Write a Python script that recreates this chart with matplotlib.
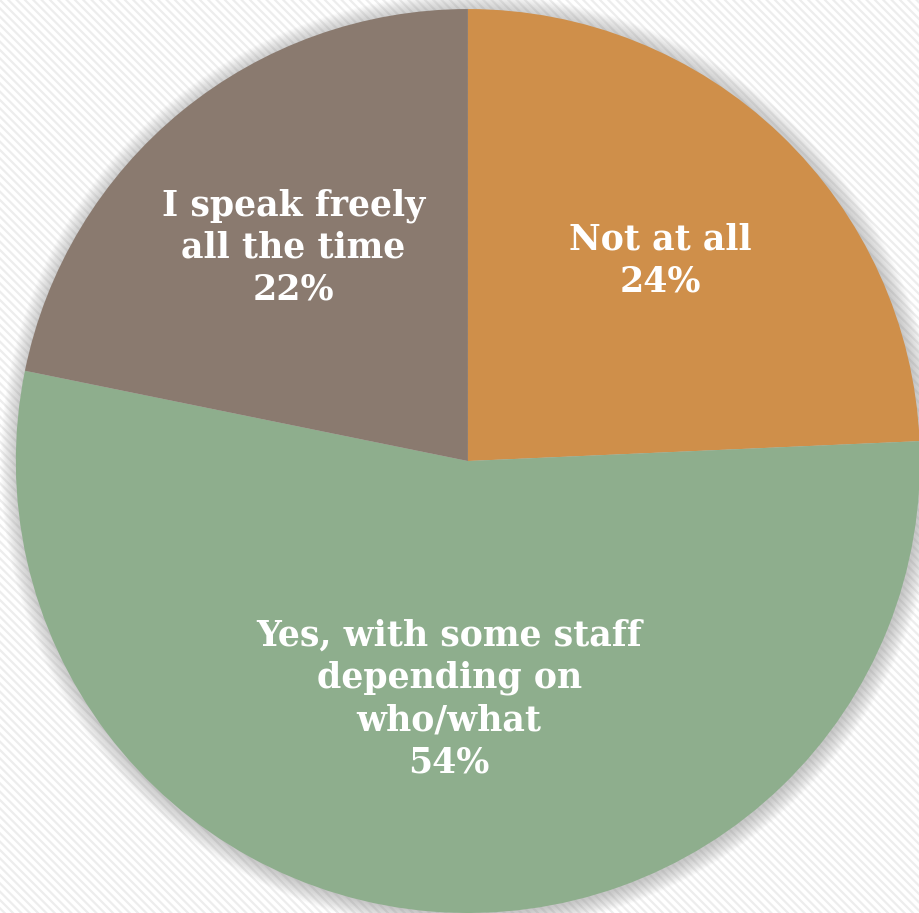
import matplotlib.pyplot as plt
import matplotlib.patches as mpatches
import numpy as np

# survey answers, clockwise from 12 o'clock
labels = ["Not at all", "Yes, with some staff\ndepending on\nwho/what", "I speak freely\nall the time"]
shares = [24.3, 53.9, 21.8]
colors = ["#CF8F4A", "#8EAE8D", "#8A7A6F"]
label_r = [0.615, 0.528, 0.61]

fig = plt.figure(figsize=(9.2, 9.13), dpi=100, facecolor='white')

# faint diagonal stripes in the background
plt.rcParams['hatch.linewidth'] = 1.6
bg = mpatches.Rectangle((0, 0), 1, 1, transform=fig.transFigure, facecolor='white',
                        edgecolor='#ededed', hatch='\\\\\\\\', linewidth=0, zorder=-10)
fig.patches.append(bg)

ax = fig.add_axes([0, 0, 1, 1])
ax.set_facecolor('none')

# soft shadow round the pie
for k in range(16):
    ax.add_patch(mpatches.Circle((0.004, -0.004), 1.0 + 0.0025 * k, facecolor='#909090',
                                 edgecolor='none', alpha=0.035, zorder=0))

wedges, _ = ax.pie(shares, colors=colors, startangle=90, counterclock=False, radius=1.0,
                   wedgeprops=dict(edgecolor='none', zorder=2))

for w, lab, val, r in zip(wedges, labels, shares, label_r):
    mid = np.deg2rad((w.theta1 + w.theta2) / 2)
    ax.text(r * np.cos(mid), r * np.sin(mid), "%s\n%.0f%%" % (lab, val),
            ha='center', va='center', color='white', fontsize=25, fontweight='bold',
            family='DejaVu Serif', linespacing=1.3, zorder=3)

ax.set_aspect('auto')
ax.set_xlim(-1.035, 1.0)
ax.set_ylim(-1.0, 1.02)
ax.axis('off')

fig.savefig('out.png', dpi=100, facecolor=fig.get_facecolor())
